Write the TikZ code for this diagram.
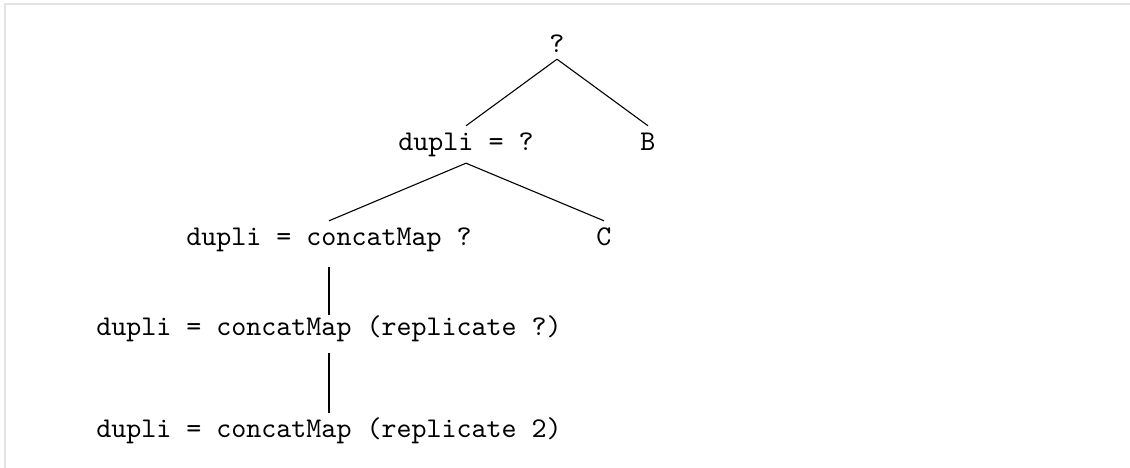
\documentclass[tikz,border=0pt]{standalone}
\usepackage{fontspec}
\newfontfamily\codefont{lmmono10-regular}[Extension=.otf]
\begin{document}
\begin{tikzpicture}[x=1pt,y=-1pt,
  lbl/.style={anchor=base, font=\fontsize{28.6}{34}\selectfont\codefont,
    text height=18pt, text depth=7pt, inner xsep=2pt, inner ysep=6pt},
  connector/.style={line width=1.1pt, black}]
\useasboundingbox (0,0) rectangle (1130,468);
\draw[line width=2pt, black!11] (5,468) -- (5,4) -- (1130,4);
\node[lbl, text depth=0pt] (root) at (557,53) {?};
\node[lbl] (d1) at (466,150) {dupli = ?};
\node[lbl] (b) at (648,150) {B};
\node[lbl] (d2) at (329,245) {dupli = concatMap ?};
\node[lbl] (c) at (604,245) {C};
\node[lbl] (d3) at (329,335) {dupli = concatMap (replicate ?)};
\node[lbl] (d4) at (329,437) {dupli = concatMap (replicate 2)};
\draw[connector] (root.south) -- (d1.north);
\draw[connector] (root.south) -- (b.north);
\draw[connector] (d1.south) -- (d2.north);
\draw[connector] (d1.south) -- (c.north);
\draw[connector, shorten <=9pt, shorten >=-4pt] (d2.south) -- (d3.north);
\draw[connector, shorten <=5pt] (d3.south) -- (d4.north);
\end{tikzpicture}
\end{document}
